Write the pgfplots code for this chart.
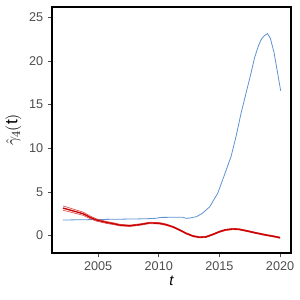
\documentclass[border=0pt]{standalone}
\usepackage{pgfplots}
\pgfplotsset{compat=1.18}
\usepackage{pgfplotstable}
\usepackage{fontspec}
\setmainfont{Liberation Sans}
\definecolor{bl}{HTML}{5E93D1}
\definecolor{rd}{HTML}{CC0000}
\definecolor{tk}{HTML}{4D4D4D}
\pgfplotstableread{
t y
2002.1 1.78
2003 1.80
2004 1.82
2005 1.84
2006 1.86
2007 1.88
2008 1.90
2009 1.93
2009.8 1.98
2010.1 2.08
2011 2.09
2012 2.09
2012.26 1.97
2012.6 2.02
2013.1 2.16
2013.6 2.55
2014.2 3.3
2014.86 4.85
2015.27 6.4
2015.96 9.06
2016.37 11.36
2016.78 14.0
2017.19 16.3
2017.6 18.6
2017.9 20.4
2018.2 21.7
2018.45 22.5
2018.7 22.9
2018.97 23.15
2019.2 22.6
2019.5 21.0
2019.8 18.6
2020.05 16.6
}\blue
\pgfplotstableread{
t y lo hi
2002.1 3.15 2.90 3.40
2002.5 3.0 2.77 3.23
2003 2.8 2.59 3.01
2003.77 2.5 2.32 2.68
2004.4 2.05 1.90 2.20
2004.87 1.78 1.65 1.91
2005.7 1.5 1.39 1.61
2006.3 1.35 1.25 1.45
2006.8 1.2 1.11 1.29
2007.6 1.12 1.04 1.20
2008.4 1.25 1.17 1.33
2009.25 1.45 1.37 1.53
2010.07 1.4 1.32 1.48
2010.6 1.25 1.17 1.33
2011.16 1.0 0.93 1.07
2011.7 0.65 0.58 0.72
2012.26 0.25 0.18 0.32
2012.8 -0.05 -0.12 0.02
2013.36 -0.2 -0.27 -0.13
2013.9 -0.15 -0.22 -0.08
2014.5 0.15 0.08 0.22
2015.0 0.44 0.37 0.51
2015.5 0.65 0.58 0.72
2016.1 0.75 0.68 0.82
2016.6 0.72 0.65 0.79
2017.2 0.55 0.48 0.62
2018 0.3 0.23 0.37
2018.84 0.06 -0.01 0.13
2019.5 -0.1 -0.17 -0.03
2020.0 -0.25 -0.32 -0.18
}\red
\begin{document}
\begin{tikzpicture}
\begin{axis}[
  scale only axis,
  width=179.25pt, height=184.5pt,
  xmin=2001.2, xmax=2020.9,
  ymin=-2.0, ymax=26.2,
  xtick={2005,2010,2015,2020},
  ytick={0,5,10,15,20,25},
  /pgf/number format/assume math mode=true,
  /pgf/number format/1000 sep={},
  tick label style={font=\fontsize{9.5}{11}\selectfont, text=tk},
  tick align=outside, tick pos=left,
  major tick length=3pt,
  every tick/.style={tk, line width=0.5pt},
  axis line style={black, line width=1.1pt},
  xlabel={\fontsize{11}{13}\selectfont\itshape t},
  ylabel={\fontsize{13}{15}\selectfont $\hat{\gamma}_4(\mathrm{t})$},
  xlabel style={yshift=3pt},
  ylabel style={yshift=-1pt},
  clip=false,
]
\addplot[bl, line width=0.6pt, no marks] table[x=t,y=y]{\blue};
\addplot[rd!70, line width=0.5pt, no marks] table[x=t,y=lo]{\red};
\addplot[rd!70, line width=0.5pt, no marks] table[x=t,y=hi]{\red};
\addplot[rd, line width=1pt, no marks] table[x=t,y=y]{\red};
\end{axis}
\pgfresetboundingbox
\path ([xshift=-39pt,yshift=-35.25pt]current axis.south west) rectangle ([xshift=6.75pt,yshift=5.25pt]current axis.north east);
\end{tikzpicture}
\end{document}
